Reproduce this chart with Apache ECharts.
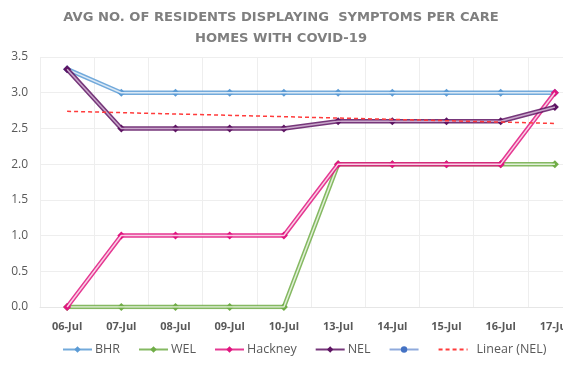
<!DOCTYPE html>
<html><head><meta charset="utf-8">
<script src="https://cdn.jsdelivr.net/npm/echarts@6/dist/echarts.min.js"></script>
<style>html,body{margin:0;padding:0;background:#fff}#c{width:563px;height:366px}</style>
</head><body><div id="c"></div>
<script>
var categories = ['06-Jul','07-Jul','08-Jul','09-Jul','10-Jul','13-Jul','14-Jul','15-Jul','16-Jul','17-Jul'];
var bhr = [3.33, 3, 3, 3, 3, 3, 3, 3, 3, 3];
var wel = [0, 0, 0, 0, 0, 2, 2, 2, 2, 2];
var hackney = [0, 1, 1, 1, 1, 2, 2, 2, 2, 3];
var nel = [3.33, 2.5, 2.5, 2.5, 2.5, 2.6, 2.6, 2.6, 2.6, 2.8];
var blankSeries = [];
var trendStart = 2.74, trendEnd = 2.57;
var yTicks = [0, 0.5, 1, 1.5, 2, 2.5, 3, 3.5];

var trend = categories.map(function(c, i){ return i === 0 ? trendStart : (i === categories.length - 1 ? trendEnd : null); });

function dbl(name, data, color, light, z){
  return [{
    name: name, type: 'line', data: data, z: z,
    symbol: 'diamond', symbolSize: 8,
    itemStyle: {color: color},
    lineStyle: {color: color, width: 4.5, opacity: 0.85}
  },{
    name: name + '_in', type: 'line', data: data, z: z + 0.5,
    symbol: 'none', silent: true,
    lineStyle: {color: light, width: 1.5}
  }];
}
var series = [].concat(
  dbl('BHR', bhr, '#5b9bd5', '#dbe9f6', 2),
  dbl('WEL', wel, '#70ad47', '#e2f0d9', 3),
  dbl('Hackney', hackney, '#e0157f', '#f9d0e5', 4),
  dbl('NEL', nel, '#5e1463', '#c9a7cb', 5),
  [{name: ' ', type: 'line', data: blankSeries, symbol: 'circle', symbolSize: 6,
    itemStyle: {color: '#4472c4'}, lineStyle: {color: '#8faadc', width: 4}},
   {name: 'Linear (NEL)', type: 'line', data: trend, connectNulls: true, symbol: 'none', z: 6,
    itemStyle: {color: '#ff3b3b'},
    lineStyle: {color: '#ff3b3b', width: 1.5, type: [4, 3]}}]
);

var chart = echarts.init(document.getElementById('c'));
chart.setOption({
  animation: false,
  title: {
    text: 'AVG NO. OF RESIDENTS DISPLAYING  SYMPTOMS PER CARE\nHOMES WITH COVID-19',
    left: 276, textAlign: 'center', top: 2,
    textStyle: {fontFamily: 'DejaVu Sans', fontWeight: 'bold', fontSize: 13.1, color: '#7f7f7f', lineHeight: 21}
  },
  grid: {left: 40, top: 57, width: 542, height: 250, containLabel: false, outerBoundsMode: 'none'},
  legend: {
    top: 343, left: 62, width: 500, padding: 0, itemWidth: 29, itemHeight: 8, itemGap: 18,
    data: ['BHR','WEL',
      {name: 'Hackney', textStyle: {padding: [0,-4,0,-2]}},
      'NEL',
      {name: ' ', textStyle: {padding: [0,-6,0,-8]}},
      {name: 'Linear (NEL)', itemStyle: {opacity: 0}, textStyle: {padding: [0,0,0,4]}}],
    textStyle: {fontFamily: 'Open Sans', fontSize: 12.5, color: '#595959', padding: [0,0,0,-2]}
  },
  xAxis: {
    type: 'category', data: categories, boundaryGap: true,
    axisLine: {show: true, lineStyle: {color: '#e6e6e6'}},
    axisTick: {show: false},
    splitLine: {show: true, lineStyle: {color: '#eeeeee'}},
    axisLabel: {interval: 0, fontFamily: 'Open Sans', fontWeight: 'bold', fontSize: 11, color: '#595959', margin: 14}
  },
  yAxis: {
    type: 'value', min: 0, max: 3.5, interval: 0.5,
    axisLine: {show: false}, axisTick: {show: false},
    splitLine: {lineStyle: {color: '#eeeeee'}},
    axisLabel: {fontFamily: 'Open Sans', fontSize: 12, color: '#595959', margin: 12,
      formatter: function(v){ return yTicks.indexOf(v) >= 0 ? v.toFixed(1) : ''; }}
  },
  series: series
});
</script></body></html>
